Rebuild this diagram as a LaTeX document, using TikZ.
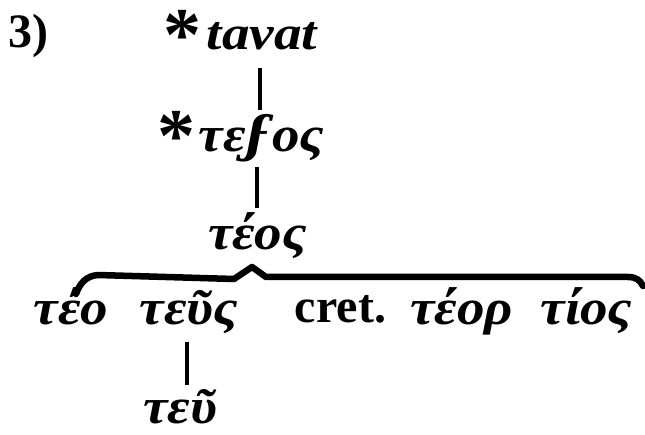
\documentclass[tikz,border=0pt]{standalone}
\usepackage{fontspec}
\setmainfont{Liberation Serif}
\newfontfamily\latf{Liberation Serif}[FakeStretch=1.15]
\newfontfamily\grkf{Liberation Serif}[FakeStretch=1.1]
\newfontfamily\digf{DejaVu Serif}
\usetikzlibrary{calc}
\tikzset{
  lbl/.style={inner sep=0pt, outer sep=0pt, anchor=base},
  grkw/.style={lbl, font=\grkf\bfseries\itshape\fontsize{50}{60}\selectfont},
  latw/.style={lbl, font=\latf\bfseries\itshape\fontsize{48}{58}\selectfont},
  rom/.style={lbl, font=\bfseries\fontsize{48}{58}\selectfont},
  starw/.style={lbl, text height=45pt, text depth=0pt, font=\bfseries\fontsize{76}{80}\selectfont},
  conn/.style={line width=3.5pt},
  bracep/.style={line width=6.5pt, line cap=round, line join=round}
}
\begin{document}
\begin{tikzpicture}[x=1pt,y=-1pt]
\useasboundingbox (0,0) rectangle (645,435);
% labels
\node[rom]   (num) at (28,48)   {3)};
\node[starw] (st1) at (182,61)  {*};
\node[latw]  (w1)  at (262,50)  {tavat};
\node[starw] (st2) at (176.5,162) {*};
\node[grkw]  (w2)  at (261.5,152) {τε{\digf ϝ}ος};
\node[grkw]  (w3)  at (257.5,250) {τέος};
\node[grkw]  (w4)  at (71,325)  {τέο};
\node[grkw]  (w5)  at (189,325) {τεῦς};
\node[rom]   (w6)  at (340.5,323) {cret.};
\node[grkw]  (w7)  at (461.5,325) {τέορ};
\node[grkw]  (w8)  at (586.5,325) {τίος};
\node[grkw]  (w9)  at (180,423) {τεῦ};
% connectors
\draw[conn] ($(w1.base)+(-2,18)$) -- ($(w2.base)+(-1.5,-42)$);
\draw[conn] ($(w2.base)+(-4.5,15)$) -- ($(w3.base)+(-0.5,-42)$);
\draw[conn] ($(w5.base)+(-2,17)$) -- ($(w9.base)+(7,-38)$);
% brace
\draw[bracep] (76,294) .. controls (80,283) and (86,276) .. (98,275)
  -- (234,279) -- (252,267) -- (266,277) -- (628,277)
  .. controls (636,277) and (640,280) .. (643,286);
\end{tikzpicture}
\end{document}
